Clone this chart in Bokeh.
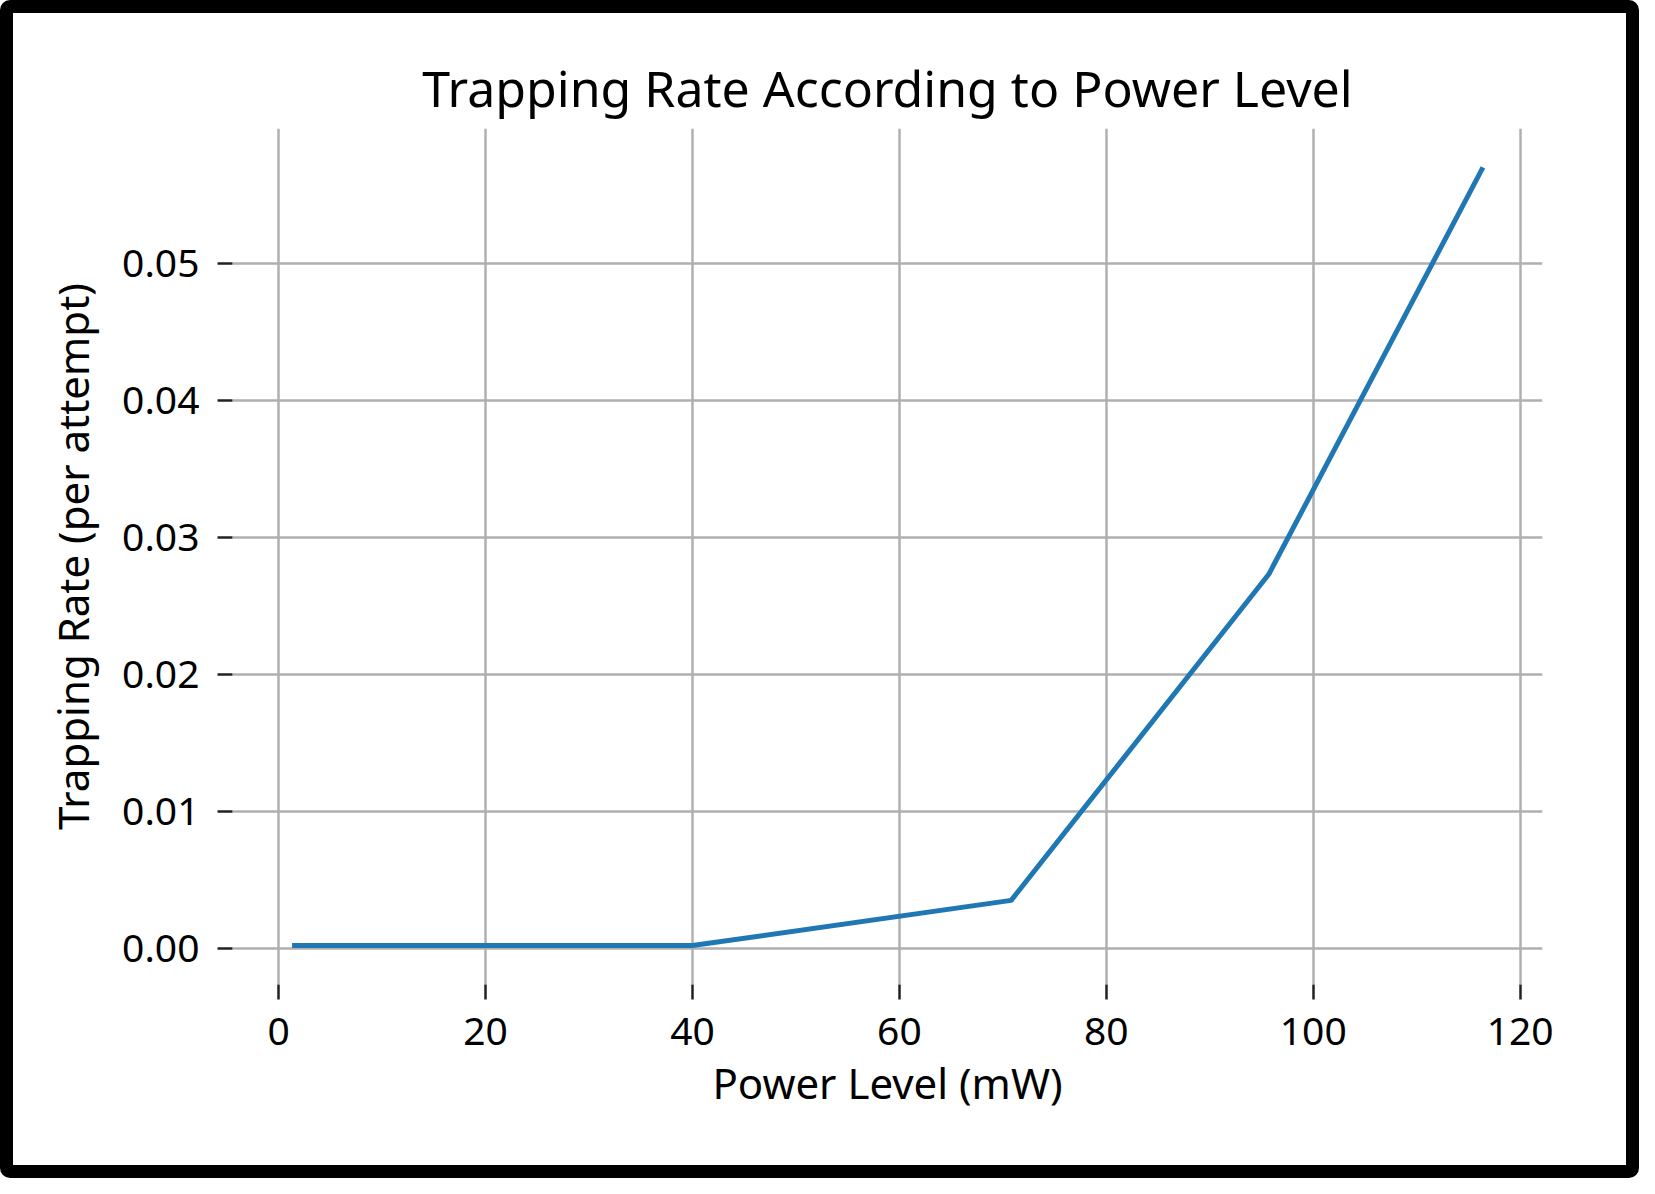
from bokeh.plotting import figure
from bokeh.models import Range1d, FixedTicker, NumeralTickFormatter
from bokeh.embed import file_html
from bokeh.resources import INLINE

# ---- data ----
power_mw = [1.3, 40.0, 70.8, 95.7, 116.4]
trap_rate = [0.0002, 0.0002, 0.0035, 0.0273, 0.0570]
x_ticks = [0, 20, 40, 60, 80, 100, 120]
y_ticks = [0.00, 0.01, 0.02, 0.03, 0.04, 0.05]

title_text = "Trapping Rate According to Power Level"
x_label = "Power Level (mW)"
y_label = "Trapping Rate (per attempt)"

FONT = "Noto Sans"

# matplotlib-like 5% margins
xmin, xmax = min(power_mw), max(power_mw)
ymin, ymax = min(trap_rate), max(trap_rate)
xpad = (xmax - xmin) * 0.05
ypad = (ymax - ymin) * 0.05

p = figure(
    output_backend="svg",
    toolbar_location=None,
    frame_width=1310,
    frame_height=856,
    min_border_left=219,
    min_border_right=84,
    min_border_top=115,
    min_border_bottom=181,
    x_range=Range1d(xmin - xpad, xmax + xpad),
    y_range=Range1d(ymin - ypad, ymax + ypad),
    title=title_text,
)
p.styles = {"border": "13px solid black", "border-radius": "10px"}

p.outline_line_color = None
p.background_fill_color = "white"
p.border_fill_color = "white"

p.line(power_mw, trap_rate, line_color="#1f77b4", line_width=5)

# title
p.title.text_font = FONT
p.title.text_font_size = "50px"
p.title.text_font_style = "normal"
p.title.text_color = "#000000"
p.title.align = "center"
p.title.standoff = 14

# grids
for g in (p.xgrid, p.ygrid):
    g.grid_line_color = "#b0b0b0"
    g.grid_line_width = 2.5
p.xgrid.ticker = FixedTicker(ticks=x_ticks)
p.ygrid.ticker = FixedTicker(ticks=y_ticks)

# axes
p.xaxis.ticker = FixedTicker(ticks=x_ticks)
p.yaxis.ticker = FixedTicker(ticks=y_ticks)
p.yaxis.formatter = NumeralTickFormatter(format="0.00")
p.xaxis.axis_label = x_label
p.yaxis.axis_label = y_label
for ax in (p.xaxis, p.yaxis):
    ax.axis_line_color = None
    ax.major_tick_line_color = "#222222"
    ax.major_tick_line_width = 2.5
    ax.major_tick_out = 15
    ax.major_tick_in = 0
    ax.minor_tick_line_color = None
    ax.major_label_text_font = FONT
    ax.major_label_text_font_size = "39px"
    ax.major_label_text_color = "#000000"
    ax.axis_label_text_font = FONT
    ax.axis_label_text_font_size = "42px"
    ax.axis_label_text_font_style = "normal"
    ax.axis_label_text_color = "#000000"
p.xaxis.major_label_standoff = 18
p.yaxis.major_label_standoff = 18
p.xaxis.axis_label_standoff = 6
p.yaxis.axis_label_standoff = 18

open("out.html", "w").write(file_html(p, INLINE))
